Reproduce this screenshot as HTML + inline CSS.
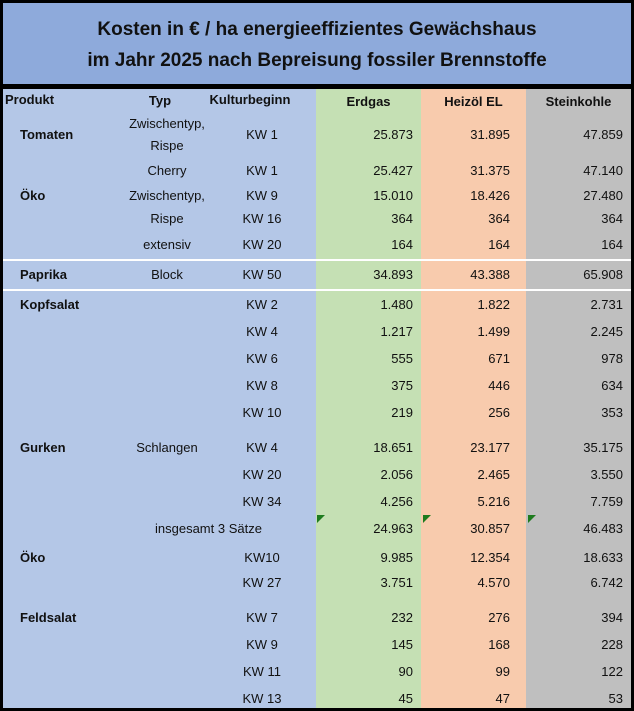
<!DOCTYPE html>
<html><head><meta charset="utf-8"><style>
body{margin:0;background:#000;}
#wrap{position:relative;width:634px;height:711px;background:#000;overflow:hidden;font-family:"Liberation Sans",sans-serif;color:#111;}
.t{position:absolute;white-space:nowrap;font-size:13px;line-height:14px;transform:translateY(-50%);}
.r{text-align:right;}
.c{text-align:center;}
.b{font-weight:bold;}
.tri{position:absolute;width:0;height:0;border-top:8px solid #1e7b1e;border-right:8px solid transparent;}
</style></head><body>
<div id="wrap">
<div style="position:absolute;left:3px;top:3px;width:628px;height:81px;background:#8eaadb;"></div>
<div class="t c b" style="left:3px;width:628px;top:30px;font-size:19px;line-height:22px;">Kosten in € / ha energieeffizientes Gewächshaus</div>
<div class="t c b" style="left:3px;width:628px;top:61px;font-size:19px;line-height:22px;">im Jahr 2025 nach Bepreisung fossiler Brennstoffe</div>
<div style="position:absolute;left:3px;top:89px;width:313px;height:619px;background:#b4c7e7;"></div>
<div style="position:absolute;left:316px;top:89px;width:105px;height:619px;background:#c5e0b4;"></div>
<div style="position:absolute;left:421px;top:89px;width:105px;height:619px;background:#f8cbad;"></div>
<div style="position:absolute;left:526px;top:89px;width:105px;height:619px;background:#bfbfbf;"></div>
<div style="position:absolute;left:3px;top:259px;width:628px;height:2px;background:#fff;"></div>
<div style="position:absolute;left:3px;top:289px;width:628px;height:2px;background:#fff;"></div>
<div class="t b" style="left:5px;top:100px;">Produkt</div>
<div class="t b c" style="left:120px;width:80px;top:101px;">Typ</div>
<div class="t b c" style="left:205px;width:90px;top:100px;">Kulturbeginn</div>
<div class="t b c" style="left:316px;width:105px;top:102px;">Erdgas</div>
<div class="t b c" style="left:421px;width:105px;top:102px;">Heizöl EL</div>
<div class="t b c" style="left:526px;width:105px;top:102px;">Steinkohle</div>
<div class="tri" style="left:317px;top:515px;"></div>
<div class="tri" style="left:423px;top:515px;"></div>
<div class="tri" style="left:528px;top:515px;"></div>
</div>
<script>
const rowY=[135,171,196,219,245,275,305,332,359,386,413,448,475,502,529,558,583,618,645,672,699];
const produkt=["Tomaten","","Öko","","","Paprika","Kopfsalat","","","","","Gurken","","","","Öko","","Feldsalat","","",""];
const typ=["Zwischentyp,|Rispe","Cherry","Zwischentyp,","Rispe","extensiv","Block","","","","","","Schlangen","","","","","","","","",""];
const kultur=["KW 1","KW 1","KW 9","KW 16","KW 20","KW 50","KW 2","KW 4","KW 6","KW 8","KW 10","KW 4","KW 20","KW 34","insgesamt 3 Sätze","KW10","KW 27","KW 7","KW 9","KW 11","KW 13"];
const erdgas=["25.873","25.427","15.010","364","164","34.893","1.480","1.217","555","375","219","18.651","2.056","4.256","24.963","9.985","3.751","232","145","90","45"];
const heizoel=["31.895","31.375","18.426","364","164","43.388","1.822","1.499","671","446","256","23.177","2.465","5.216","30.857","12.354","4.570","276","168","99","47"];
const steinkohle=["47.859","47.140","27.480","364","164","65.908","2.731","2.245","978","634","353","35.175","3.550","7.759","46.483","18.633","6.742","394","228","122","53"];
const w=document.getElementById('wrap');
function add(txt,cls,style,name){const d=document.createElement('div');d.className='t '+cls;d.style.cssText=style;d.textContent=txt;


w.appendChild(d);}
rowY.forEach((y,i)=>{
 if(produkt[i])add(produkt[i],'b','left:20px;top:'+(y+(i==2||i==15?0:0))+'px;','produkt-'+i);
 if(typ[i]){const p=typ[i].split('|');if(p.length==2){add(p[0],'c','left:117px;width:100px;top:'+(y-11)+'px;','typ-'+i+'-a');add(p[1],'c','left:117px;width:100px;top:'+(y+11)+'px;','typ-'+i+'-b');}else add(p[0],'c','left:117px;width:100px;top:'+y+'px;','typ-'+i);}
 if(i==14)add(kultur[i],'','left:155px;top:'+y+'px;','kulturbeginn-'+i);
 else add(kultur[i],'c','left:220px;width:84px;top:'+y+'px;','kulturbeginn-'+i);
 add(erdgas[i],'r','left:316px;width:97px;top:'+y+'px;','erdgas-'+i);
 add(heizoel[i],'r','left:421px;width:89px;top:'+y+'px;','heizoel-'+i);
 add(steinkohle[i],'r','left:526px;width:97px;top:'+y+'px;','steinkohle-'+i);
});
</script>
</body></html>
